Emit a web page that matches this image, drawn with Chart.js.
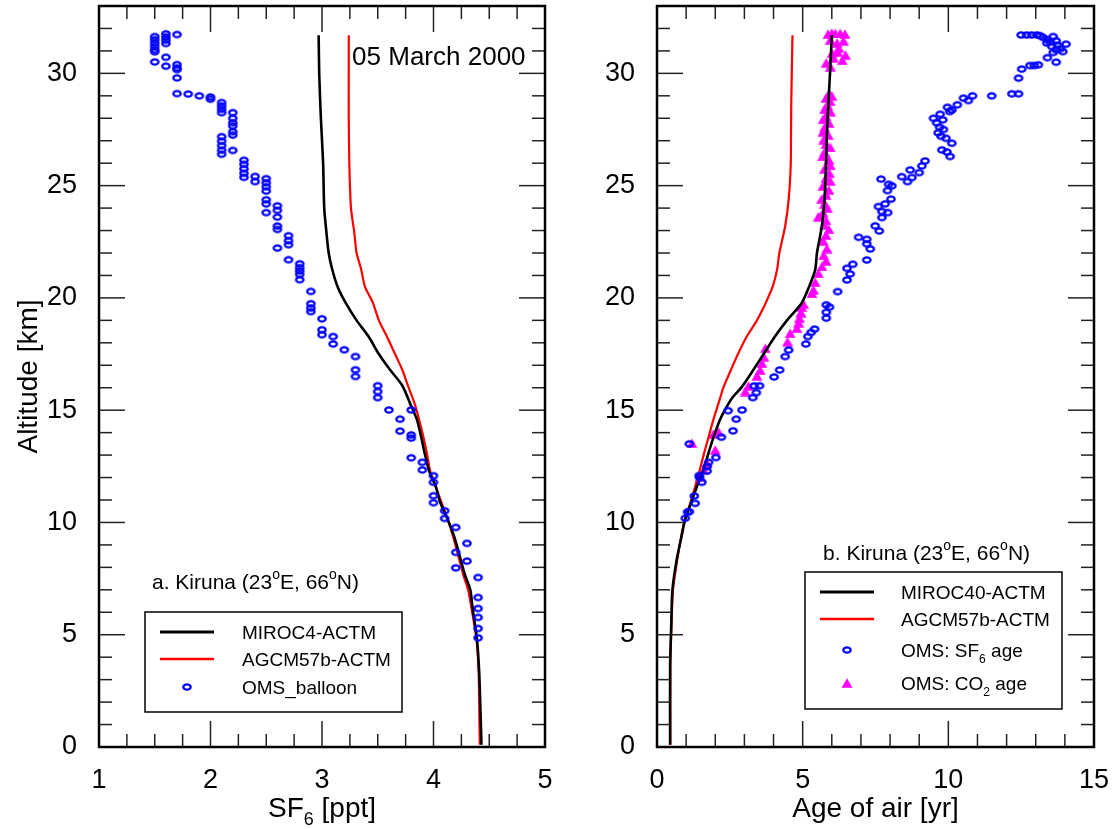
<!DOCTYPE html>
<html>
<head>
<meta charset="utf-8">
<script src="https://cdn.jsdelivr.net/npm/chart.js@4.4.0/dist/chart.umd.min.js"></script>
<style>
  body { margin: 0; background: #fff; }
  .panel { position: absolute; top: 0; }
  #leftPanel { left: 0; }
  #rightPanel { left: 557px; }
</style>
</head>
<body>
<div class="panel" id="leftPanel"><canvas id="sf6Chart" width="557" height="829"></canvas></div>
<div class="panel" id="rightPanel"><canvas id="ageChart" width="557" height="829"></canvas></div>
<script>
// ---- panel a: SF6 mixing ratio profiles (ppt vs km) ----
var sf6Alt   = [0.1, 1.8, 3.3, 4.8, 6.2, 7.0, 7.7, 9.3, 10.1, 10.9, 11.6, 12.3, 13.1, 13.8, 14.6, 15.3, 16.1, 16.8, 17.5, 18.3, 19.0, 19.8, 20.5, 21.3, 22.0, 22.9, 24.0, 26.0, 28.0, 30.0, 31.7];
var sf6Miroc = [4.43, 4.42, 4.41, 4.39, 4.35, 4.33, 4.28, 4.19, 4.13, 4.06, 4.02, 3.96, 3.92, 3.89, 3.85, 3.79, 3.72, 3.61, 3.51, 3.415, 3.31, 3.21, 3.14, 3.09, 3.06, 3.04, 3.02, 3.01, 2.99, 2.975, 2.97];
var sf6Agcm  = [4.415, 4.41, 4.405, 4.385, 4.34, 4.31, 4.265, 4.18, 4.13, 4.07, 4.02, 3.97, 3.94, 3.91, 3.87, 3.83, 3.77, 3.72, 3.655, 3.58, 3.51, 3.455, 3.385, 3.35, 3.31, 3.29, 3.26, 3.245, 3.24, 3.24, 3.24];

var balloonSf6 = [1.50, 1.50, 1.50, 1.50, 1.50, 1.50, 1.60, 1.60, 1.60, 1.60, 1.70, 1.50, 1.60, 1.60, 1.70, 1.70, 1.70, 1.70,
  1.70, 1.80, 1.90, 2.00, 2.00, 2.10, 2.10, 2.10, 2.10, 2.20, 2.20, 2.20, 2.20, 2.20, 2.20, 2.10, 2.10, 2.10, 2.10, 2.10, 2.20,
  2.30, 2.30, 2.30, 2.30, 2.30, 2.40, 2.40, 2.50, 2.50, 2.50, 2.50, 2.50, 2.50, 2.50, 2.60, 2.60, 2.60, 2.60, 2.60, 2.60,
  2.70, 2.70, 2.70, 2.70, 2.80, 2.80, 2.80, 2.80, 2.80, 2.90, 2.90, 2.90, 2.90, 3.00, 3.00, 3.00, 3.10, 3.10, 3.20,
  3.30, 3.30, 3.30, 3.50, 3.50, 3.50, 3.60, 3.80, 3.70, 3.70, 3.80, 3.80, 3.80, 3.90, 3.90, 4.00, 4.00, 4.00, 4.00,
  4.10, 4.10, 4.20, 4.30, 4.20, 4.30, 4.20, 4.40, 4.40, 4.40, 4.40, 4.40, 4.40];
var balloonAlt = [31.64, 31.50, 31.35, 31.20, 31.05, 30.96, 31.76, 31.62, 31.48, 31.33, 31.73, 30.51, 30.72, 30.32, 30.39, 30.24, 30.17, 29.80,
  29.10, 29.08, 29.00, 28.95, 28.85, 28.70, 28.55, 28.40, 28.25, 28.25, 28.00, 27.80, 27.66, 27.40, 27.25, 27.18, 26.98, 26.78, 26.58, 26.40, 26.57,
  26.13, 25.95, 25.75, 25.55, 25.37, 25.41, 25.18, 25.31, 25.13, 24.95, 24.76, 24.37, 24.19, 23.80, 24.10, 23.90, 23.60, 23.20, 23.05, 22.22,
  22.77, 22.55, 22.37, 21.70, 21.52, 21.35, 21.20, 21.05, 20.81, 20.29, 19.74, 19.55, 19.39, 19.07, 18.58, 18.36, 18.28, 17.95, 17.69,
  17.39, 16.80, 16.50, 16.09, 15.83, 15.56, 15.01, 15.01, 14.60, 14.07, 13.90, 13.76, 12.88, 12.68, 12.34, 12.08, 11.79, 11.19, 10.88,
  10.52, 10.18, 9.78, 9.07, 8.67, 8.28, 7.98, 7.55, 6.66, 6.17, 5.77, 5.28, 4.86];

// ---- panel b: age of air profiles (yr vs km) ----
var ageAlt   = [0.1, 3.6, 5.5, 7.0, 8.3, 9.3, 10.1, 10.85, 11.6, 12.3, 13.1, 13.8, 14.6, 15.3, 15.6, 16.05, 16.8, 17.5, 18.3, 19.0, 19.5, 19.8, 20.5, 21.25, 22.0, 23.2, 24.4, 25.9, 27.3, 28.8, 30.3, 31.7];
var ageMiroc = [0.45, 0.45, 0.49, 0.53, 0.67, 0.83, 0.96, 1.16, 1.37, 1.58, 1.77, 1.94, 2.17, 2.46, 2.61, 2.92, 3.31, 3.66, 4.06, 4.46, 4.80, 4.98, 5.22, 5.43, 5.49, 5.66, 5.75, 5.80, 5.83, 5.89, 5.95, 6.00];
var ageAgcm  = [0.46, 0.46, 0.50, 0.55, 0.69, 0.82, 0.95, 1.14, 1.31, 1.46, 1.62, 1.77, 1.94, 2.11, 2.18, 2.29, 2.54, 2.78, 3.09, 3.43, 3.63, 3.74, 3.97, 4.12, 4.20, 4.40, 4.52, 4.59, 4.60, 4.61, 4.63, 4.65];

var sf6Age = [12.50, 12.69, 12.86, 13.04, 13.15, 13.25, 13.40, 13.60, 13.50, 13.70, 13.38, 13.55, 13.75, 14.04, 13.85, 13.93, 13.60, 13.70,
  13.40, 13.70, 13.09, 12.95, 12.80, 12.52, 12.41, 12.41, 12.18, 11.49, 10.83, 10.69, 10.52, 10.31, 10.12, 9.97, 10.05, 9.72, 9.49,
  9.81, 9.60, 9.70, 9.83, 9.65, 9.75, 9.92, 10.12, 9.78, 9.95, 10.06, 9.20, 9.09, 8.69, 9.00, 8.75, 8.40, 8.60, 7.69, 7.95, 8.06,
  7.91, 8.03, 7.83, 7.60, 7.72, 7.92, 7.72, 7.49, 7.63, 6.92, 7.20, 7.20, 7.32, 7.20, 6.72, 6.52, 6.63, 6.52, 6.20, 5.81, 5.92,
  5.81, 5.81, 5.41, 5.29, 5.18, 5.11, 4.52, 4.40, 4.21, 4.02, 3.52, 3.34, 3.41, 3.29, 2.92, 2.44, 2.72, 2.61, 2.21, 1.11, 2.02,
  1.77, 1.72, 1.72, 1.45, 1.46, 1.54, 1.28, 1.31, 1.11, 1.05, 0.97];
var sf6AgeAlt = [31.71, 31.71, 31.71, 31.71, 31.68, 31.60, 31.50, 31.64, 31.40, 31.45, 31.35, 31.20, 31.25, 31.30, 31.10, 30.97, 30.93, 31.05,
  30.70, 30.50, 30.38, 30.35, 30.35, 30.19, 29.79, 29.09, 29.09, 29.00, 29.00, 28.79, 28.90, 28.60, 28.37, 28.49, 28.30, 28.18, 28.00,
  27.93, 27.80, 27.60, 27.50, 27.35, 27.20, 27.11, 26.89, 26.59, 26.50, 26.30, 26.10, 25.88, 25.70, 25.58, 25.36, 25.40, 25.18, 25.29, 25.06, 24.99,
  24.78, 24.40, 24.19, 24.07, 23.85, 23.80, 23.58, 23.21, 22.98, 22.70, 22.61, 22.41, 22.18, 21.69, 21.50, 21.32, 21.07, 20.80, 20.28, 19.69, 19.59,
  19.36, 19.10, 18.61, 18.46, 18.28, 17.95, 17.68, 17.39, 16.79, 16.48, 16.09, 16.08, 15.78, 15.56, 15.01, 14.98, 14.60, 14.08, 13.80, 13.50, 12.89,
  12.68, 12.49, 12.29, 12.09, 12.01, 11.79, 11.18, 10.85, 10.48, 10.47, 10.19];

var co2Age = [5.87, 6.00, 6.12, 6.29, 6.45, 5.95, 6.18, 6.40, 6.24, 6.01, 6.20, 6.47, 6.36, 5.81, 6.05, 5.95,
  5.90, 6.00, 5.80, 5.95, 5.85, 5.75, 5.95, 5.80, 5.70, 5.90, 5.75, 5.70, 5.88, 5.72, 5.80, 5.95, 5.75, 5.68, 5.90, 5.95,
  5.75, 5.92, 5.80, 5.95, 5.70, 5.90, 5.80, 5.65, 5.75, 5.85, 5.70, 5.54, 5.80, 5.75, 5.90, 5.80, 5.70, 5.83, 5.72, 5.80,
  5.66, 5.54, 5.43, 5.37, 5.32, 5.03, 4.97, 4.94, 4.89, 4.86, 4.80, 4.57, 4.48, 3.72, 3.66, 3.60, 3.54, 3.43, 3.14, 3.03,
  2.11, 1.94, 1.20, 2.00, 1.72, 1.60, 1.49];
var co2AgeAlt = [31.75, 31.80, 31.78, 31.78, 31.75, 31.50, 31.35, 31.45, 31.13, 30.90, 30.95, 30.82, 30.58, 30.47, 30.70, 30.30,
  29.10, 29.00, 28.90, 28.75, 28.60, 28.40, 28.30, 28.10, 27.95, 27.80, 27.60, 27.40, 27.25, 27.05, 26.85, 26.70, 26.50, 26.30, 26.15, 25.90,
  25.75, 25.55, 25.35, 25.20, 25.00, 24.80, 24.60, 24.40, 24.20, 24.00, 23.80, 23.62, 23.45, 23.25, 23.05, 22.80, 22.55, 22.20, 21.90, 21.65,
  21.40, 21.10, 20.70, 20.36, 20.20, 19.73, 19.60, 19.35, 19.10, 18.90, 18.65, 18.43, 18.05, 17.76, 17.39, 17.09, 16.79, 16.53, 16.08, 15.83,
  14.04, 13.94, 13.53, 13.23, 12.64, 12.35, 12.04];

// axis tick labels
var altTicks = [0, 5, 10, 15, 20, 25, 30];
var sf6Ticks = [1, 2, 3, 4, 5];
var ageTicks = [0, 5, 10, 15];

var FONT = '"Liberation Sans", Arial, Helvetica, sans-serif';
Chart.defaults.font.family = FONT;
Chart.defaults.color = '#000';

function pts(xs, ys) {
  return xs.map(function (x, i) { return { x: x, y: ys[i] }; });
}

// open blue ring, a bit wider than tall
function ringMarker() {
  var c = document.createElement('canvas');
  c.width = 12; c.height = 10;
  var g = c.getContext('2d');
  g.strokeStyle = '#0000ff';
  g.lineWidth = 2.3;
  g.beginPath();
  g.ellipse(6, 5, 3.7, 2.7, 0, 0, Math.PI * 2);
  g.stroke();
  return c;
}

// filled magenta triangle
function triMarker() {
  var c = document.createElement('canvas');
  c.width = 12; c.height = 10;
  var g = c.getContext('2d');
  g.fillStyle = '#ff00ff';
  g.beginPath();
  g.moveTo(6, 0.3); g.lineTo(11.5, 9.7); g.lineTo(0.5, 9.7);
  g.closePath();
  g.fill();
  return c;
}

var ring = ringMarker();
var tri = triMarker();

// text with sub/superscript pieces: [[text, 'sub'|'sup'|undefined], ...]
function richWidth(ctx, parts, size) {
  var w = 0;
  parts.forEach(function (p) {
    ctx.font = (p[1] ? Math.round(size * 0.65) : size) + 'px ' + FONT;
    w += ctx.measureText(p[0]).width;
  });
  return w;
}
function drawRich(ctx, parts, x, y, size) {
  ctx.textAlign = 'left';
  ctx.textBaseline = 'alphabetic';
  parts.forEach(function (p) {
    var s = p[1] ? Math.round(size * 0.65) : size;
    var dy = p[1] === 'sub' ? size * 0.3 : (p[1] === 'sup' ? -size * 0.5 : 0);
    ctx.font = s + 'px ' + FONT;
    ctx.fillText(p[0], x, y + dy);
    x += ctx.measureText(p[0]).width;
  });
}

// frame, inward ticks on all four sides, x title, notes and legend box
var profileFrame = {
  id: 'profileFrame',
  afterDatasetsDraw: function (chart, args, opts) {
    var ctx = chart.ctx, a = chart.chartArea;
    var xs = chart.scales.x, ys = chart.scales.y;
    ctx.save();

    function seg(x1, y1, x2, y2) {
      ctx.beginPath(); ctx.moveTo(x1, y1); ctx.lineTo(x2, y2); ctx.stroke();
    }
    function isMajor(v, step) {
      return Math.abs(v / step - Math.round(v / step)) < 1e-6;
    }

    ctx.strokeStyle = '#222';
    ctx.lineWidth = 1.5;
    var i, v, p, len;
    for (i = 0; ; i++) {
      v = xs.min + i * opts.xMinor;
      if (v > xs.max + 1e-9) break;
      p = xs.getPixelForValue(v);
      len = isMajor(v, opts.xMajor) ? 26 : 13;
      seg(p, a.bottom, p, a.bottom - len);
      seg(p, a.top, p, a.top + len);
    }
    for (i = 0; ; i++) {
      v = ys.min + i * opts.yMinor;
      if (v > ys.max + 1e-9) break;
      p = ys.getPixelForValue(v);
      len = isMajor(v, opts.yMajor) ? 26 : 13;
      seg(a.left, p, a.left + len, p);
      seg(a.right, p, a.right - len, p);
    }

    ctx.strokeStyle = '#000';
    ctx.lineWidth = 2.5;
    ctx.strokeRect(a.left, a.top, a.right - a.left, a.bottom - a.top);

    ctx.fillStyle = '#000';
    // x-axis title, centred under the plot
    var tw = richWidth(ctx, opts.xTitle, 28);
    drawRich(ctx, opts.xTitle, (a.left + a.right) / 2 - tw / 2, 817, 28);

    // free text placed in data coordinates
    opts.notes.forEach(function (n) {
      drawRich(ctx, n.parts, xs.getPixelForValue(n.x), ys.getPixelForValue(n.y), n.size);
    });

    // legend box
    var L = opts.legend;
    ctx.lineWidth = 1.5;
    ctx.strokeStyle = '#000';
    ctx.strokeRect(L.x, L.y, L.w, L.h);
    L.rows.forEach(function (r) {
      var ds = chart.data.datasets[r.ds];
      if (ds.showLine) {
        ctx.strokeStyle = ds.borderColor;
        ctx.lineWidth = ds.borderWidth + 0.5;
        seg(L.symX - 27, r.y, L.symX + 27, r.y);
      } else {
        var m = ds.pointStyle;
        ctx.drawImage(m, L.symX - m.width / 2, r.y - m.height / 2);
      }
      ctx.fillStyle = '#000';
      drawRich(ctx, r.text, L.textX, r.y + 7, 19);
    });
    ctx.restore();
  }
};

function yScale(withTitle, width) {
  return {
    type: 'linear', min: 0, max: 33,
    grid: { display: false }, border: { display: false },
    ticks: { font: { size: 27 }, padding: 14, color: '#000' },
    title: { display: withTitle, text: 'Altitude [km]', font: { size: 28 }, color: '#000', padding: { top: 12, bottom: 0 } },
    afterBuildTicks: function (s) { s.ticks = altTicks.map(function (t) { return { value: t }; }); },
    afterFit: function (s) { s.width = width; s.paddingTop = 0; s.paddingBottom = 0; }
  };
}
function xScale(min, max, labels) {
  return {
    type: 'linear', min: min, max: max,
    grid: { display: false }, border: { display: false },
    ticks: { font: { size: 27 }, padding: 9, color: '#000', maxRotation: 0 },
    afterBuildTicks: function (s) { s.ticks = labels.map(function (t) { return { value: t }; }); },
    afterFit: function (s) { s.height = 82; s.paddingLeft = 0; s.paddingRight = 0; }
  };
}

function lineSet(label, xs, ys, color, width, order) {
  return { label: label, data: pts(xs, ys), showLine: true, borderColor: color, borderWidth: width,
           pointRadius: 0, tension: 0.25, fill: false, order: order };
}
function markSet(label, xs, ys, marker, order) {
  return { label: label, data: pts(xs, ys), showLine: false, pointStyle: marker, pointRadius: 5,
           pointHoverRadius: 5, order: order };
}

new Chart(document.getElementById('sf6Chart'), {
  type: 'scatter',
  data: {
    datasets: [
      lineSet('MIROC4-ACTM', sf6Miroc, sf6Alt, '#000000', 2.6, 1),
      lineSet('AGCM57b-ACTM', sf6Agcm, sf6Alt, '#ff0000', 2.2, 2),
      markSet('OMS_balloon', balloonSf6, balloonAlt, ring, 0)
    ]
  },
  options: {
    responsive: false, animation: false,
    layout: { autoPadding: false, padding: { left: 0, top: 6, right: 12, bottom: 0 } },
    events: [],
    plugins: {
      legend: { display: false }, tooltip: { enabled: false },
      profileFrame: {
        xMinor: 0.25, xMajor: 1, yMinor: 1, yMajor: 5,
        xTitle: [['SF'], ['6', 'sub'], [' [ppt]']],
        notes: [
          { x: 3.27, y: 30.39, size: 26, parts: [['05 March 2000']] },
          { x: 1.475, y: 7.02, size: 21, parts: [['a. Kiruna (23'], ['o', 'sup'], ['E, 66'], ['o', 'sup'], ['N)']] }
        ],
        legend: {
          x: 145, y: 612, w: 257, h: 100, symX: 187, textX: 242,
          rows: [
            { ds: 0, y: 632, text: [['MIROC4-ACTM']] },
            { ds: 1, y: 659, text: [['AGCM57b-ACTM']] },
            { ds: 2, y: 687, text: [['OMS_balloon']] }
          ]
        }
      }
    },
    scales: { x: xScale(1, 5, sf6Ticks), y: yScale(true, 99) }
  },
  plugins: [profileFrame]
});

new Chart(document.getElementById('ageChart'), {
  type: 'scatter',
  data: {
    datasets: [
      lineSet('MIROC40-ACTM', ageMiroc, ageAlt, '#000000', 2.6, 1),
      lineSet('AGCM57b-ACTM', ageAgcm, ageAlt, '#ff0000', 2.2, 2),
      markSet('OMS: SF6 age', sf6Age, sf6AgeAlt, ring, 0),
      markSet('OMS: CO2 age', co2Age, co2AgeAlt, tri, 3)
    ]
  },
  options: {
    responsive: false, animation: false,
    layout: { autoPadding: false, padding: { left: 0, top: 6, right: 20, bottom: 0 } },
    events: [],
    plugins: {
      legend: { display: false }, tooltip: { enabled: false },
      profileFrame: {
        xMinor: 1, xMajor: 5, yMinor: 1, yMajor: 5,
        xTitle: [['Age of air [yr]']],
        notes: [
          { x: 5.7, y: 8.31, size: 21, parts: [['b. Kiruna (23'], ['o', 'sup'], ['E, 66'], ['o', 'sup'], ['N)']] }
        ],
        legend: {
          x: 248, y: 572, w: 257, h: 137, symX: 290, textX: 344,
          rows: [
            { ds: 0, y: 592, text: [['MIROC40-ACTM']] },
            { ds: 1, y: 619, text: [['AGCM57b-ACTM']] },
            { ds: 2, y: 650, text: [['OMS: SF'], ['6', 'sub'], [' age']] },
            { ds: 3, y: 683, text: [['OMS: CO'], ['2', 'sub'], [' age']] }
          ]
        }
      }
    },
    scales: { x: xScale(0, 15, ageTicks), y: yScale(false, 100) }
  },
  plugins: [profileFrame]
});
</script>
</body>
</html>
